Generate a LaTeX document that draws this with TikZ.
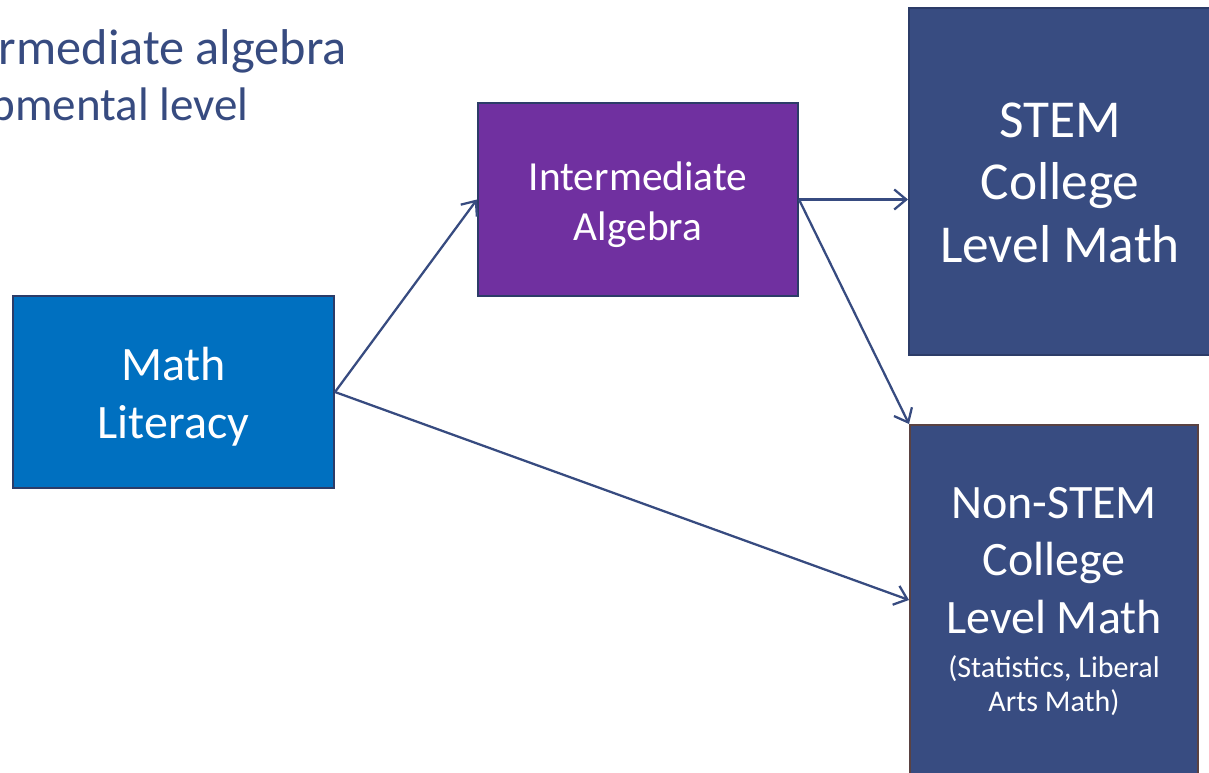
\documentclass[tikz,border=0pt]{standalone}
\usepackage{fontspec}
\setmainfont{Carlito}
\usetikzlibrary{arrows.meta}
\definecolor{navytext}{HTML}{374B80}
\definecolor{litblue}{HTML}{0070C0}
\definecolor{algpurple}{HTML}{7030A0}
\definecolor{collblue}{HTML}{384C81}
\definecolor{boxedge}{HTML}{2C3C68}
\definecolor{brownedge}{HTML}{5A4242}
\tikzset{
  course/.style={rectangle, draw=boxedge, line width=1.5pt, inner sep=0pt},
  caption/.style={text=white, align=center, inner sep=0pt},
  path/.style={draw=navytext, line width=1.7pt, -{Straight Barb[length=9pt, width=15pt, line width=1.7pt]}}
}
\begin{document}
\begin{tikzpicture}[x=0.75pt, y=-0.75pt]
\useasboundingbox (0,0) rectangle (1209,772);
\clip (0,0) rectangle (1209,772);
\fill[white] (0,0) rectangle (1209,772);
% heading text, cut at the left edge
\node [anchor=base east, text=navytext, inner sep=0pt, font=\fontsize{37.7}{42}\selectfont] (head1) at (347,64) {Intermediate algebra};
\node [anchor=base east, text=navytext, inner sep=0pt, font=\fontsize{35.3}{42}\selectfont] (head2) at (249,120) {developmental level};
% courses
\node [course, fill=litblue, minimum width=240.75pt, minimum height=144pt] (lit) at (173.5,392) {};
\node [course, fill=algpurple, minimum width=240pt, minimum height=144.75pt] (alg) at (638,199.5) {};
\node [course, fill=collblue, minimum width=226.5pt, minimum height=260pt] (stem) at (1060,181.5) {};
\node [course, draw=brownedge, fill=collblue, minimum width=216pt, minimum height=262.5pt, anchor=north] (nonstem) at (1054,424) {};
% course names
\node [caption, font=\fontsize{36}{43.5}\selectfont] (litname) at ([yshift=-3.5pt]lit.center) {Math\\Literacy};
\node [caption, font=\fontsize{31}{38}\selectfont] (algname) at ([yshift=-4pt]alg.center) {Intermediate\\Algebra};
\node [caption, font=\fontsize{40}{47}\selectfont] (stemname) at ([yshift=-1pt]stem.center) {STEM\\College\\Level Math};
\node [caption, anchor=north, font=\fontsize{36}{43}\selectfont] (nsname) at (1054,487) {Non-STEM\\College\\Level Math};
\node [caption, anchor=base, font=\fontsize{22.5}{25}\selectfont] (nsnote) at (1054,711) {(Statistics, Liberal\\Arts Math)};
% connectors
\draw [path] (lit.east) -- (alg.west);
\draw [path] (lit.east) -- (nonstem.west);
\draw [path] (alg.east) -- (alg.east -| stem.west);
\draw [path] (alg.east) -- (nonstem.north west);
\end{tikzpicture}
\end{document}
